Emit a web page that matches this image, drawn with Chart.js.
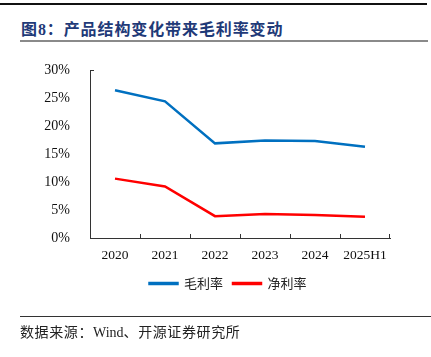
<!DOCTYPE html>
<html><head><meta charset="utf-8">
<script src="https://cdn.jsdelivr.net/npm/chart.js@4"></script>
<style>
html,body{margin:0;padding:0;background:#fff;}
#wrap{position:relative;width:431px;height:357px;overflow:hidden;}
#c{position:absolute;left:0;top:0;}
.ln{position:absolute;}
#title{position:absolute;left:21px;top:16px;font:bold 16px "Noto Sans CJK SC";color:#1f3a78;white-space:nowrap;letter-spacing:0.9px;}
#src{position:absolute;left:20px;top:321px;font:14px "Liberation Serif","Noto Sans CJK SC";color:#222;white-space:nowrap;}
#src span{font-family:"Noto Sans CJK SC";font-size:14px;letter-spacing:0.6px;}
</style></head>
<body><div id="wrap">
<div class="ln" style="left:0;top:3px;width:427px;height:1.5px;background:#111"></div>
<div id="title"><span style="font-family:'Noto Sans CJK SC'">图</span><span style="font-family:'Liberation Serif'">8</span>：产品结构变化带来毛利率变动</div>
<div class="ln" style="left:20px;top:40px;width:408px;height:2px;background:#8a8a8a"></div>
<canvas id="c" width="431" height="357"></canvas>
<div class="ln" style="left:20px;top:316px;width:411px;height:1px;background:#333"></div>
<div id="src"><span>数据来源：</span>Wind<span>、开源证券研究所</span></div>
</div>
<script>
const categories = ["2020","2021","2022","2023","2024","2025H1"];
const grossMargin = [26.4, 24.4, 16.9, 17.4, 17.3, 16.3];
const netMargin = [10.6, 9.2, 3.9, 4.3, 4.1, 3.8];
const seriesNames = ["毛利率","净利率"];
const yTicks = [0,5,10,15,20,25,30];

const shiftLegend = {
  id:'shiftLegend',
  afterLayout(chart){ if(chart.legend){ chart.legend.left += 33; chart.legend.right += 33; } }
};
const innerTicks = {
  id:'innerTicks',
  afterDraw(chart){
    const x = chart.scales.x, y = chart.scales.y, ctx = chart.ctx;
    const b = chart.chartArea.bottom;
    ctx.save(); ctx.strokeStyle = '#333'; ctx.lineWidth = 1;
    ctx.beginPath();
    for (let i = 1; i < categories.length; i++) {
      const px = Math.round((x.getPixelForValue(i-1) + x.getPixelForValue(i)) / 2) + 0.5;
      ctx.moveTo(px, b); ctx.lineTo(px, b - 4);
    }
    const r = Math.round(chart.chartArea.right) - 0.5;
    ctx.moveTo(r, b); ctx.lineTo(r, b - 4);
    const t = Math.round(y.getPixelForValue(30)) + 0.5;
    ctx.moveTo(chart.chartArea.left, t); ctx.lineTo(chart.chartArea.left + 4, t);
    ctx.stroke(); ctx.restore();
  }
};

new Chart(document.getElementById('c'), {
  type:'line',
  data:{
    labels:categories,
    datasets:[
      {label:seriesNames[0], data:grossMargin, borderColor:'#0070C0', backgroundColor:'#0070C0', borderWidth:2.5, pointRadius:0, tension:0},
      {label:seriesNames[1], data:netMargin, borderColor:'#FF0000', backgroundColor:'#FF0000', borderWidth:2.5, pointRadius:0, tension:0}
    ]
  },
  options:{
    responsive:false, animation:false, devicePixelRatio:1,
    layout:{padding:{top:70,left:0,right:41,bottom:57}},
    plugins:{
      legend:{position:'bottom', labels:{boxWidth:28, boxHeight:1, padding:10, color:'#222', font:{family:'Noto Sans CJK SC', size:13}}},
      tooltip:{enabled:false}
    },
    scales:{
      x:{
        offset:true,
        grid:{display:false},
        border:{display:true, color:'#333', width:1},
        ticks:{color:'#111', font:{family:'Liberation Serif', size:13.5}, padding:1, maxRotation:0, autoSkip:false},
        afterFit(s){ s.height = 29; }
      },
      y:{
        min:0, max:30,
        afterBuildTicks(s){ s.ticks = yTicks.map(v=>({value:v})); },
        grid:{display:false},
        border:{display:true, color:'#333', width:1},
        ticks:{color:'#111', font:{family:'Liberation Serif', size:14}, padding:12, callback:v=>v+'%'},
        afterFit(s){ s.width = 90; }
      }
    }
  },
  plugins:[shiftLegend, innerTicks]
});
</script>
</body></html>
